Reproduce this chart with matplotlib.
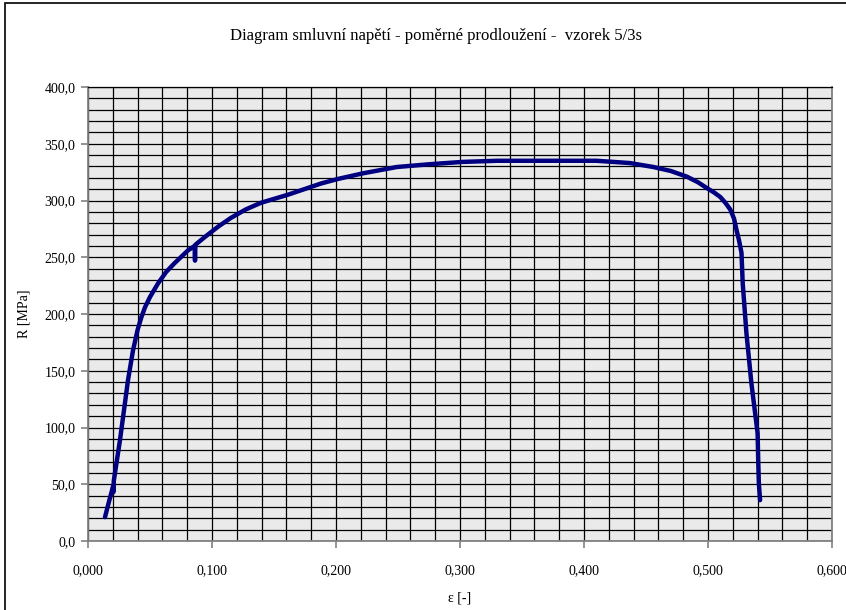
import matplotlib
matplotlib.use("Agg")
import matplotlib.pyplot as plt
from matplotlib.ticker import MultipleLocator, FuncFormatter
from matplotlib.patches import Rectangle

# Data
strain = [0.0137, 0.0170, 0.0202, 0.0205, 0.0208, 0.0258, 0.0323, 0.0363,
          0.0400, 0.0430, 0.0460, 0.0500, 0.0565, 0.0630,
          0.0700, 0.0806, 0.0860, 0.0863, 0.0866, 0.0944, 0.1050, 0.1150,
          0.1270, 0.1395, 0.1610, 0.1880, 0.2016, 0.2220, 0.2490, 0.2760,
          0.3020, 0.3300, 0.3560, 0.3830, 0.4100, 0.4370, 0.4560, 0.4700,
          0.4830, 0.4920, 0.4990, 0.5050, 0.5100, 0.5140, 0.5180, 0.5210,
          0.5230, 0.5250, 0.5270, 0.5280, 0.5310, 0.5350, 0.5400, 0.5405,
          0.5410, 0.5420]
stress = [21.0, 35.0, 48.0, 43.0, 53.0, 89.0, 142.0, 168.0,
          186.0, 197.0, 206.0, 215.0, 227.0, 237.0,
          245.0, 256.0, 260.0, 247.0, 261.0, 268.0, 277.0, 284.5,
          292.0, 298.0, 305.0, 315.0, 319.0, 324.0, 329.5, 332.0,
          334.0, 335.0, 335.0, 335.0, 335.0, 333.0, 329.5, 326.0,
          321.0, 316.0, 311.0, 307.0, 303.0, 298.0, 292.0, 284.0,
          274.0, 265.0, 254.0, 227.0, 183.0, 139.0, 95.0, 71.0,
          51.0, 36.0]

title = "Diagram smluvní napětí - poměrné prodloužení -  vzorek 5/3s"
xlabel = "ε [-]"
ylabel = "R [MPa]"

plt.rcParams['font.family'] = ['Liberation Serif', 'DejaVu Serif']

fig = plt.figure(figsize=(8.46, 6.10), dpi=100)
fig.patch.set_facecolor('white')

# chart frame (left and top edges visible)
fig.add_artist(Rectangle((5 / 846, -0.1), 1.2, (610 - 3) / 610 + 0.1,
                         transform=fig.transFigure, fill=False,
                         edgecolor='black', linewidth=1.2))

ax = fig.add_axes([88 / 846, (610 - 541) / 610, (832 - 88) / 846, (541 - 87) / 610])
ax.set_facecolor('#eaeaea')

ax.plot(strain, stress, color='#000080', linewidth=3.2, solid_capstyle='round',
        solid_joinstyle='round', zorder=3)

ax.set_xlim(0, 0.6)
ax.set_ylim(0, 400)

ax.xaxis.set_major_locator(MultipleLocator(0.1))
ax.xaxis.set_minor_locator(MultipleLocator(0.02))
ax.yaxis.set_major_locator(MultipleLocator(50))
ax.yaxis.set_minor_locator(MultipleLocator(10))

ax.xaxis.set_major_formatter(FuncFormatter(lambda v, p: f"{v:.3f}".replace('.', ',')))
ax.yaxis.set_major_formatter(FuncFormatter(lambda v, p: f"{v:.1f}".replace('.', ',')))

ax.grid(which='both', color='black', linewidth=0.9, zorder=1)
ax.set_axisbelow(True)

for s in ['left', 'bottom', 'right']:
    ax.spines[s].set_color('#808080')
    ax.spines[s].set_linewidth(1.3)
ax.spines['top'].set_color('black')
ax.spines['top'].set_linewidth(0.9)

ax.tick_params(which='major', direction='out', length=5, width=1.2, color='#808080',
               labelsize=10, pad=4)
ax.tick_params(which='minor', length=0)
ax.tick_params(axis='x', pad=12)

ax.set_xlabel(xlabel, fontsize=10, labelpad=10)
ax.set_ylabel(ylabel, fontsize=10, labelpad=10)

fig.text(436 / 846, 1 - 36 / 610, title, fontsize=12, ha='center', va='center')

fig.savefig('out.png', dpi=100)
